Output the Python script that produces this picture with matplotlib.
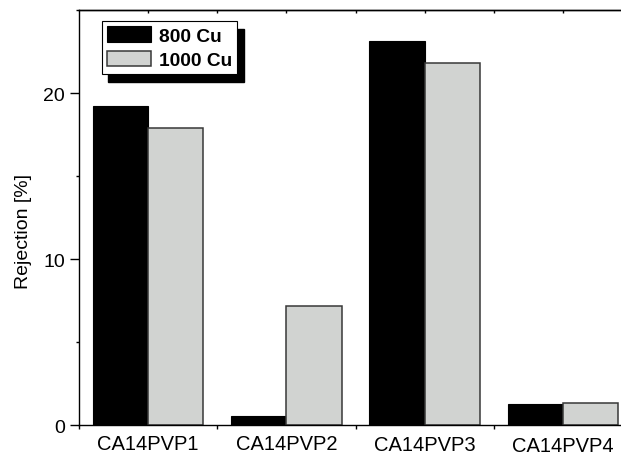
import numpy as np
import matplotlib
matplotlib.use("Agg")
import matplotlib.pyplot as plt
from matplotlib.patches import Rectangle
from matplotlib.ticker import MultipleLocator, FixedLocator
import matplotlib.transforms as mtransforms

CATEGORIES = ["CA14PVP1", "CA14PVP2", "CA14PVP3", "CA14PVP4"]
CU800 = [19.2, 0.6, 23.15, 1.3]
CU1000 = [17.9, 7.2, 21.8, 1.33]
SERIES_NAMES = ["800 Cu", "1000 Cu"]

plt.rcParams["font.family"] = ["Liberation Sans", "DejaVu Sans"]


def plotRejection():
    fig = plt.figure(figsize=(6.21, 4.56), dpi=100)
    # right edge goes past the figure, the original is cropped there
    ax = fig.add_axes([0.1272, 0.0647, 0.891, 0.911])

    x = np.arange(1, len(CATEGORIES) + 1)
    w = 0.4
    ax.bar(x - w / 2, CU800, w, color="black", edgecolor="black",
           linewidth=0.8, label=SERIES_NAMES[0], zorder=2)
    ax.bar(x + w / 2, CU1000, w, color="#d1d3d1", edgecolor="#383838",
           linewidth=1.1, label=SERIES_NAMES[1], zorder=2)

    ax.set_xlim(0.5, len(CATEGORIES) + 0.5)
    ax.set_ylim(0, 25)

    for s in ax.spines.values():
        s.set_linewidth(1.0)
    ax.spines["right"].set_visible(False)

    # y axis
    ax.yaxis.set_major_locator(MultipleLocator(10))
    ax.yaxis.set_minor_locator(MultipleLocator(5))
    ax.tick_params(axis="y", which="major", direction="out", length=6.5,
                   width=1.0, labelsize=14, pad=3.5)
    ax.tick_params(axis="y", which="minor", direction="out", length=2.5,
                   width=1.0)
    ax.set_ylabel("Rejection [%]", fontsize=14)
    ax.yaxis.set_label_coords(-0.085, 0.469)

    # x axis: labels on the groups, ticks between them
    ax.set_xticks(x)
    ax.set_xticklabels(CATEGORIES)
    ax.xaxis.set_minor_locator(FixedLocator(np.arange(0.5, len(CATEGORIES) + 1, 1.0)))
    ax.tick_params(axis="x", which="major", length=0, labelsize=14.5, pad=6)
    ax.tick_params(axis="x", which="minor", direction="out", length=3,
                   width=1.0)

    # the last two labels sit a bit lower in the original
    shifts = [0, 0, -1, -2.5]
    for lab, dy in zip(ax.get_xticklabels(), shifts):
        off = mtransforms.ScaledTranslation(0, dy / 100.0, fig.dpi_scale_trans)
        lab.set_transform(lab.get_transform() + off)

    # top axis with small inward ticks
    top = ax.secondary_xaxis("top")
    top.set_xticks(np.arange(1.0, len(CATEGORIES) + 0.6, 0.5))
    top.tick_params(direction="in", length=1.8, width=1.0, labeltop=False)
    top.spines["top"].set_linewidth(1.0)

    leg = ax.legend(loc="upper left", bbox_to_anchor=(0.041, 0.974),
                    borderaxespad=0, fancybox=False, edgecolor="black",
                    framealpha=1, prop={"weight": "bold", "size": 13.8},
                    handlelength=2.3, handleheight=0.9, handletextpad=0.4,
                    borderpad=0.28, labelspacing=0.3)
    leg.get_frame().set_linewidth(0.8)
    leg.set_zorder(5)

    # hard black drop shadow behind the legend
    fig.canvas.draw()
    bb = leg.get_window_extent()
    inv = ax.transAxes.inverted()
    (x0, y0), (x1, y1) = inv.transform([[bb.x0 + 6.3, bb.y0 - 7.7],
                                        [bb.x1 + 6.3, bb.y1 - 7.7]])
    ax.add_patch(Rectangle((x0, y0), x1 - x0, y1 - y0, transform=ax.transAxes,
                           facecolor="black", edgecolor="black",
                           clip_on=False, zorder=4.9))

    fig.savefig("out.png", dpi=100)


def main():
    plotRejection()


if __name__ == "__main__":
    main()
